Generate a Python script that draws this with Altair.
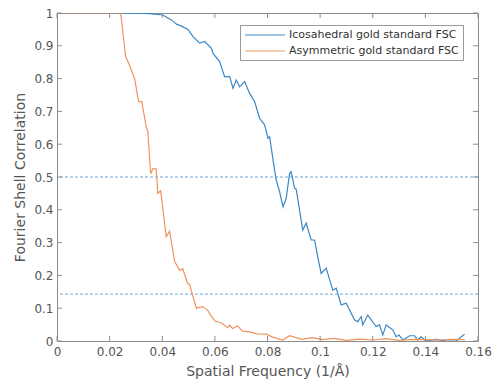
import altair as alt
import pandas as pd

names = ["Icosahedral gold standard FSC", "Asymmetric gold standard FSC"]
colors = ["#3a87c6", "#ee935c"]

ico_f = [0, 0.0242, 0.035, 0.0403, 0.0416, 0.0435, 0.0454, 0.0473, 0.0498, 0.0517,
         0.0542, 0.0561, 0.0587, 0.0593, 0.0618, 0.0637, 0.0656, 0.0669, 0.0681, 0.0694,
         0.0713, 0.0732, 0.0751, 0.0770, 0.0789, 0.0802, 0.0808, 0.0821, 0.0833, 0.0846,
         0.0859, 0.0871, 0.0884, 0.0890, 0.0903, 0.0909, 0.0934, 0.0947, 0.0966, 0.0979,
         0.0992, 0.1004, 0.1023, 0.1048, 0.1061, 0.1080, 0.1099, 0.1131, 0.1143, 0.1156,
         0.1162, 0.1181, 0.1213, 0.1226, 0.1238, 0.1251, 0.1276, 0.1289, 0.1300, 0.1315,
         0.1340, 0.1359, 0.1370, 0.1384, 0.1403, 0.1441, 0.1479, 0.1517, 0.1549]
ico_v = [1.0, 1.0, 0.998, 0.994, 0.987, 0.979, 0.966, 0.960, 0.950, 0.928,
         0.908, 0.913, 0.892, 0.877, 0.852, 0.806, 0.806, 0.770, 0.796, 0.775,
         0.791, 0.755, 0.730, 0.679, 0.659, 0.618, 0.623, 0.552, 0.491, 0.455,
         0.409, 0.435, 0.511, 0.516, 0.466, 0.463, 0.338, 0.359, 0.308, 0.308,
         0.252, 0.206, 0.222, 0.155, 0.161, 0.110, 0.115, 0.064, 0.059, 0.074,
         0.049, 0.079, 0.044, 0.049, 0.018, 0.049, 0.034, 0.013, 0.018, 0.003,
         0.016, 0.016, 0.003, 0.013, 0.0, 0.005, 0.0, 0.0, 0.021]

asym_f = [0, 0.0242, 0.0261, 0.0276, 0.0295, 0.0310, 0.0322, 0.0340, 0.0345, 0.0356,
          0.0364, 0.0377, 0.0383, 0.0394, 0.0415, 0.0428, 0.0447, 0.0466, 0.0478, 0.0496,
          0.0504, 0.0515, 0.0530, 0.0553, 0.0572, 0.0588, 0.0602, 0.0625, 0.0648, 0.0656,
          0.0667, 0.0686, 0.0705, 0.0732, 0.0760, 0.0795, 0.0820, 0.0858, 0.0884, 0.0930,
          0.0970, 0.1010, 0.1050, 0.1100, 0.1150, 0.1200, 0.1250, 0.1300, 0.1350, 0.1400,
          0.1450, 0.1500, 0.1550]
asym_v = [1.0, 1.0, 0.866, 0.840, 0.800, 0.730, 0.730, 0.650, 0.640, 0.510,
          0.525, 0.525, 0.450, 0.458, 0.318, 0.335, 0.242, 0.216, 0.220, 0.176,
          0.172, 0.140, 0.100, 0.105, 0.095, 0.074, 0.060, 0.055, 0.041, 0.048,
          0.038, 0.046, 0.030, 0.028, 0.022, 0.021, 0.012, 0.003, 0.016, 0.005,
          0.010, 0.004, 0.008, 0.002, 0.006, 0.003, 0.007, 0.002, 0.005, 0.004,
          0.003, 0.005, 0.004]

thresholds = [0.5, 0.143]
x_ticks = [0, 0.02, 0.04, 0.06, 0.08, 0.1, 0.12, 0.14, 0.16]
y_ticks = [0, 0.1, 0.2, 0.3, 0.4, 0.5, 0.6, 0.7, 0.8, 0.9, 1]

W, H = 421, 328
axis_col = "#8c8c8c"
label_col = "#555555"
font = "DejaVu Sans"

df = pd.concat([
    pd.DataFrame({"f": ico_f, "v": ico_v, "series": names[0]}),
    pd.DataFrame({"f": asym_f, "v": asym_v, "series": names[1]}),
])
thr_df = pd.DataFrame({"v": thresholds})
xt_df = pd.DataFrame({"f": x_ticks})
yt_df = pd.DataFrame({"v": y_ticks})

x_scale = alt.Scale(domain=[0, 0.16], nice=False, zero=False)
y_scale = alt.Scale(domain=[0, 1], nice=False)

x_axis = alt.Axis(title="Spatial Frequency (1/Å)", values=x_ticks, format="~g",
                  ticks=False, domain=False, grid=False, labelPadding=5,
                  labelFlush=False, labelOverlap=False,
                  labelFontSize=12, labelColor=label_col, labelFont=font,
                  titleFontSize=14, titleColor=label_col, titleFont=font,
                  titleFontWeight="normal", titleY=34, titleBaseline="alphabetic")
y_axis = alt.Axis(title="Fourier Shell Correlation", values=y_ticks, format="~g",
                  tickCount=11,
                  ticks=False, domain=False, grid=False, labelPadding=4,
                  labelFlush=False, labelOverlap=False,
                  labelFontSize=12, labelColor=label_col, labelFont=font,
                  titleFontSize=14, titleColor=label_col, titleFont=font,
                  titleFontWeight="normal", titleX=-33, titleY=H / 2,
                  titleBaseline="alphabetic", titleAlign="center")

thr = alt.Chart(thr_df).mark_rule(color="#6aa6d8", strokeDash=[3, 2], strokeWidth=1).encode(
    y=alt.Y("v:Q", scale=y_scale, axis=y_axis)
)

lines = alt.Chart(df).mark_line(strokeWidth=1.2, clip=True).encode(
    x=alt.X("f:Q", scale=x_scale, axis=x_axis),
    y=alt.Y("v:Q", scale=y_scale, axis=y_axis),
    color=alt.Color("series:N", scale=alt.Scale(domain=names, range=colors),
                    legend=alt.Legend(title=None, orient="none", legendX=183, legendY=12,
                                      symbolType="M-4,0H4", symbolSize=100,
                                      symbolStrokeWidth=1.2, symbolOffset=15,
                                      labelOffset=18, labelFontSize=11, labelFont=font,
                                      labelLimit=400,
                                      labelColor="#333333", rowPadding=5, padding=4,
                                      strokeColor="#999999", fillColor="white",
                                      cornerRadius=0)),
)

tick_len = 5
xb = alt.Chart(xt_df).mark_rule(color=axis_col).encode(
    x=alt.X("f:Q", scale=x_scale, axis=x_axis), y=alt.value(H), y2=alt.value(H - tick_len))
xtp = alt.Chart(xt_df).mark_rule(color=axis_col).encode(
    x=alt.X("f:Q", scale=x_scale, axis=x_axis), y=alt.value(0), y2=alt.value(tick_len))
yl = alt.Chart(yt_df).mark_rule(color=axis_col).encode(
    y=alt.Y("v:Q", scale=y_scale, axis=y_axis), x=alt.value(0), x2=alt.value(tick_len))
yr = alt.Chart(yt_df).mark_rule(color=axis_col).encode(
    y=alt.Y("v:Q", scale=y_scale, axis=y_axis), x=alt.value(W - tick_len), x2=alt.value(W))

chart = alt.layer(thr, lines, xb, xtp, yl, yr).properties(
    width=W, height=H,
    autosize="none",
    padding={"left": 57, "top": 13, "right": 16, "bottom": 47},
    background="white",
).configure_view(stroke=axis_col, strokeWidth=1)

chart.save("out.html", embed_options={"renderer": "svg", "actions": False})
